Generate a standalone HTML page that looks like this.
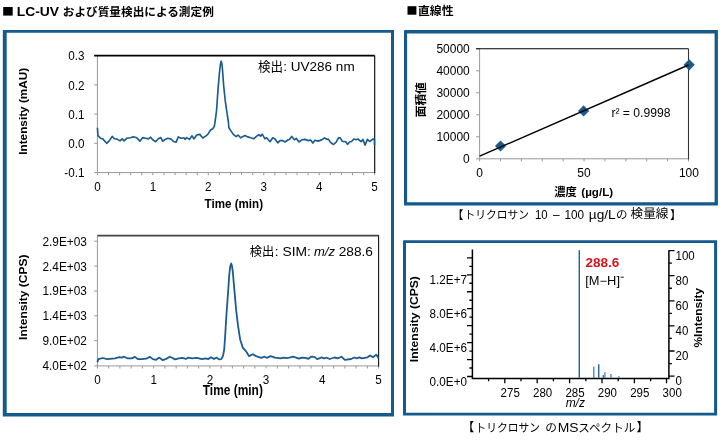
<!DOCTYPE html>
<html><head><meta charset="utf-8"><title>chart</title>
<style>html,body{margin:0;padding:0;background:#fff;overflow:hidden}body{width:720px;height:445px;font-family:"Liberation Sans",sans-serif}</style>
</head><body>
<svg width="720" height="445" viewBox="0 0 720 445" style="display:block;font-family:'Liberation Sans',sans-serif;filter:blur(0.35px)">
<rect width="720" height="445" fill="#fff"/>
<path fill-rule="evenodd" fill="#155a8c" d="M3.8 30.1H394.0V416.6H2.8V31.1Q2.8 30.1 3.8 30.1ZM6.699999999999999 32.800000000000004V413.1H391.0V32.800000000000004Z"/>
<path fill-rule="evenodd" fill="#155a8c" d="M405.0 30.1H717.9V205.5H404.0V31.1Q404.0 30.1 405.0 30.1ZM407.1 33.5V202.3H714.6V33.5Z"/>
<path fill-rule="evenodd" fill="#155a8c" d="M404.0 240.2H717.1V415.6H403.0V241.2Q403.0 240.2 404.0 240.2ZM406.0 243.1V412.70000000000005H714.1V243.1Z"/>
<rect x="3.2" y="7.0" width="9.5" height="8.6" fill="#000"/>
<text x="16.70" y="15.7" font-size="13.6" textLength="42.38" lengthAdjust="spacingAndGlyphs" font-weight="bold">LC-UV</text>
<text x="62.8" y="16.4" font-size="11.7" font-weight="bold" textLength="151" lengthAdjust="spacingAndGlyphs" style="font-family:'Liberation Sans','Noto Sans CJK JP',sans-serif">および質量検出による測定例</text>
<rect x="407.5" y="6.2" width="8.9" height="8.5" fill="#000"/>
<text x="418" y="14.7" font-size="11.7" font-weight="bold" textLength="35.5" lengthAdjust="spacingAndGlyphs" style="font-family:'Liberation Sans','Noto Sans CJK JP',sans-serif">直線性</text>
<path d="M97.4 55.6V172.6H374.7" fill="none" stroke="#989898" stroke-width="1"/>
<path d="M94.2 55.60H97.4M94.2 84.85H97.4M94.2 114.10H97.4M94.2 143.35H97.4M94.2 172.60H97.4M97.40 172.6v2.6M108.49 172.6v2.6M119.58 172.6v2.6M130.68 172.6v2.6M141.77 172.6v2.6M152.86 172.6v2.6M163.95 172.6v2.6M175.04 172.6v2.6M186.14 172.6v2.6M197.23 172.6v2.6M208.32 172.6v2.6M219.41 172.6v2.6M230.50 172.6v2.6M241.60 172.6v2.6M252.69 172.6v2.6M263.78 172.6v2.6M274.87 172.6v2.6M285.96 172.6v2.6M297.06 172.6v2.6M308.15 172.6v2.6M319.24 172.6v2.6M330.33 172.6v2.6M341.42 172.6v2.6M352.52 172.6v2.6M363.61 172.6v2.6M374.70 172.6v2.6" fill="none" stroke="#989898" stroke-width="1"/>
<path d="M94.2 55.6H374.7" stroke="#000" stroke-width="1.6"/>
<path d="M374.7 55.6V173.1" stroke="#000" stroke-width="1.1"/>
<text transform="translate(84.40 60.35) scale(0.8696 1)" font-size="13.45" text-anchor="end">0.3</text>
<text transform="translate(84.40 89.60) scale(0.8696 1)" font-size="13.45" text-anchor="end">0.2</text>
<text transform="translate(84.40 118.85) scale(0.8696 1)" font-size="13.45" text-anchor="end">0.1</text>
<text transform="translate(84.40 148.10) scale(0.8696 1)" font-size="13.45" text-anchor="end">0.0</text>
<text transform="translate(84.40 177.35) scale(0.8696 1)" font-size="13.45" text-anchor="end">-0.1</text>
<text transform="translate(97.50 191.10) scale(0.8696 1)" font-size="13.45" text-anchor="middle">0</text>
<text transform="translate(152.92 191.10) scale(0.8696 1)" font-size="13.45" text-anchor="middle">1</text>
<text transform="translate(208.34 191.10) scale(0.8696 1)" font-size="13.45" text-anchor="middle">2</text>
<text transform="translate(263.76 191.10) scale(0.8696 1)" font-size="13.45" text-anchor="middle">3</text>
<text transform="translate(319.18 191.10) scale(0.8696 1)" font-size="13.45" text-anchor="middle">4</text>
<text transform="translate(374.60 191.10) scale(0.8696 1)" font-size="13.45" text-anchor="middle">5</text>
<text transform="translate(233.80 207.90) scale(0.8696 1)" font-size="13.34" font-weight="bold" text-anchor="middle">Time (min)</text>
<text transform="translate(27.30 111.30) rotate(-90) scale(1.0000 1)" font-size="11.77" font-weight="bold" text-anchor="middle">Intensity (mAU)</text>
<polyline points="97.4,127.8 98.0,135.6 100.6,138.3 102.8,138.9 106.7,143.3 109.4,140.6 112.2,136.4 114.4,138.7 117.2,139.1 120.0,140.9 122.2,138.9 124.1,140.9 126.7,138.3 130.6,137.8 133.3,136.7 136.7,137.8 140.0,141.1 142.8,137.6 145.6,138.3 148.3,138.9 150.6,137.2 152.8,139.8 155.6,141.7 158.3,138.7 160.8,137.6 162.8,141.3 165.0,139.4 167.8,138.3 171.1,139.1 173.6,141.5 176.1,142.2 178.3,136.9 181.1,138.3 183.9,137.8 185.0,139.4 186.7,137.6 189.4,139.4 192.0,135.8 193.9,138.9 196.7,135.0 199.8,134.4 202.8,138.0 205.6,136.1 207.8,134.4 210.6,130.0 212.8,128.7 214.4,126.1 215.3,120.1 216.5,111.2 218.0,89.6 219.4,73.4 220.4,64.5 221.2,61.2 222.0,64.5 222.5,69.8 223.7,86.0 225.2,100.4 227.0,113.0 228.4,122.0 228.9,127.8 231.1,131.1 233.3,134.4 236.1,136.7 238.0,135.0 240.6,137.8 245.0,135.6 247.8,136.9 250.6,137.8 253.9,138.7 256.7,136.1 258.9,134.7 260.6,136.1 262.2,134.2 265.0,138.9 266.7,137.8 270.0,141.7 272.8,137.8 275.0,138.9 277.8,142.8 280.0,140.6 282.8,140.6 285.0,142.0 287.8,140.0 289.4,139.4 291.7,136.4 294.4,139.8 296.3,138.3 298.9,142.0 301.7,139.8 305.0,139.4 308.3,140.6 310.6,140.0 312.8,143.1 315.0,140.2 317.8,141.1 321.7,139.9 324.5,137.9 326.3,139.1 328.6,139.4 330.4,142.4 333.5,144.5 336.2,142.1 338.5,137.9 340.3,137.9 342.1,141.2 345.7,141.8 347.5,144.4 349.8,141.7 351.6,141.5 353.8,139.0 356.1,139.7 357.9,139.0 361.1,141.7 362.9,139.4 365.1,145.1 367.4,139.4 369.5,141.5 373.2,139.0 374.4,139.0 374.5,145.0" fill="none" stroke="#1c5b8d" stroke-width="1.65" stroke-linejoin="round"/>
<text x="258" y="70.7" font-size="12.6" textLength="25" lengthAdjust="spacingAndGlyphs" style="font-family:'Liberation Sans','Noto Sans CJK JP',sans-serif">検出</text>
<text x="283.28" y="70.7" font-size="13.0" textLength="71.40" lengthAdjust="spacingAndGlyphs">: UV286 nm</text>
<path d="M97.4 235.3V365.9H378.6" fill="none" stroke="#989898" stroke-width="1"/>
<path d="M94.2 241.20H97.4M94.2 266.10H97.4M94.2 291.00H97.4M94.2 315.80H97.4M94.2 340.70H97.4M94.2 365.90H97.4M97.40 365.9v2.6M108.65 365.9v2.6M119.90 365.9v2.6M131.14 365.9v2.6M142.39 365.9v2.6M153.64 365.9v2.6M164.89 365.9v2.6M176.14 365.9v2.6M187.38 365.9v2.6M198.63 365.9v2.6M209.88 365.9v2.6M221.13 365.9v2.6M232.38 365.9v2.6M243.62 365.9v2.6M254.87 365.9v2.6M266.12 365.9v2.6M277.37 365.9v2.6M288.62 365.9v2.6M299.86 365.9v2.6M311.11 365.9v2.6M322.36 365.9v2.6M333.61 365.9v2.6M344.86 365.9v2.6M356.10 365.9v2.6M367.35 365.9v2.6M378.60 365.9v2.6" fill="none" stroke="#989898" stroke-width="1"/>
<path d="M97.4 235.60000000000002H378.6" stroke="#444" stroke-width="1.6"/>
<path d="M378.6 235.3V366.4" stroke="#111" stroke-width="1.1"/>
<text transform="translate(86.90 245.60) scale(0.8696 1)" font-size="13.63" text-anchor="end">2.9E+03</text>
<text transform="translate(86.90 270.50) scale(0.8696 1)" font-size="13.63" text-anchor="end">2.4E+03</text>
<text transform="translate(86.90 295.40) scale(0.8696 1)" font-size="13.63" text-anchor="end">1.9E+03</text>
<text transform="translate(86.90 320.20) scale(0.8696 1)" font-size="13.63" text-anchor="end">1.4E+03</text>
<text transform="translate(86.90 345.10) scale(0.8696 1)" font-size="13.63" text-anchor="end">9.0E+02</text>
<text transform="translate(86.90 370.30) scale(0.8696 1)" font-size="13.63" text-anchor="end">4.0E+02</text>
<text transform="translate(97.50 384.30) scale(0.8696 1)" font-size="13.45" text-anchor="middle">0</text>
<text transform="translate(153.70 384.30) scale(0.8696 1)" font-size="13.45" text-anchor="middle">1</text>
<text transform="translate(209.90 384.30) scale(0.8696 1)" font-size="13.45" text-anchor="middle">2</text>
<text transform="translate(266.10 384.30) scale(0.8696 1)" font-size="13.45" text-anchor="middle">3</text>
<text transform="translate(322.30 384.30) scale(0.8696 1)" font-size="13.45" text-anchor="middle">4</text>
<text transform="translate(378.50 384.30) scale(0.8696 1)" font-size="13.45" text-anchor="middle">5</text>
<text transform="translate(232.80 395.40) scale(0.8696 1)" font-size="13.74" font-weight="bold" text-anchor="middle">Time (min)</text>
<text transform="translate(26.80 297.20) rotate(-90) scale(1.0840 1)" font-size="11.10" font-weight="bold" text-anchor="middle">Intensity (CPS)</text>
<polyline points="97.4,362.2 98.3,359.1 102.8,358.0 107.2,359.1 115.0,358.3 119.4,357.2 121.7,357.6 124.1,356.7 127.2,358.3 131.7,358.3 135.0,356.9 137.8,359.1 141.7,359.1 146.1,358.7 150.0,356.9 152.8,359.1 156.1,359.8 159.4,357.6 162.8,360.2 166.1,358.9 170.0,356.7 172.5,358.0 175.0,359.4 178.9,358.3 182.2,357.8 186.1,358.9 188.3,357.6 192.2,358.3 196.7,357.8 202.2,359.1 205.6,358.3 208.3,359.1 210.9,357.2 213.9,358.9 216.7,357.6 218.9,359.4 221.3,359.1 223.1,355.6 224.2,349.5 225.3,333.8 226.6,312.2 228.0,293.2 229.3,274.3 230.3,266.0 231.2,263.5 232.0,266.0 232.8,271.6 234.2,287.8 236.1,309.5 238.0,325.7 240.1,339.2 242.8,347.8 245.0,350.0 246.7,352.2 248.9,356.1 252.8,354.2 256.1,356.1 261.1,357.8 264.4,356.7 266.7,357.8 270.6,356.1 275.0,357.6 280.6,358.3 283.3,357.6 286.7,358.1 289.4,357.6 292.8,356.7 296.1,357.6 298.9,358.7 301.7,357.6 305.6,357.8 308.3,358.9 311.1,356.7 314.4,356.9 317.2,359.1 321.7,357.4 323.9,358.3 326.8,357.7 329.7,359.0 334.6,357.5 338.0,358.3 341.4,356.7 344.8,359.9 351.1,359.0 354.5,357.5 356.9,358.3 359.4,357.3 361.8,358.3 367.6,357.3 370.0,355.5 373.0,357.3 376.2,354.6 378.4,358.0" fill="none" stroke="#1c5b8d" stroke-width="1.8" stroke-linejoin="round"/>
<text x="249.8" y="256.3" font-size="12.4" textLength="24.5" lengthAdjust="spacingAndGlyphs" style="font-family:'Liberation Sans','Noto Sans CJK JP',sans-serif">検出</text>
<text x="274.76" y="255.9" font-size="13.0" textLength="36.11" lengthAdjust="spacingAndGlyphs">: SIM:</text>
<text x="314.00" y="255.9" font-size="13.0" textLength="21.00" lengthAdjust="spacingAndGlyphs" font-style="italic">m/z</text>
<text x="338.72" y="255.9" font-size="13.0" textLength="34.27" lengthAdjust="spacingAndGlyphs">288.6</text>
<path d="M479.6 48.8V158.8H688.5" fill="none" stroke="#989898" stroke-width="1"/>
<path d="M476.0 48.80H479.6M476.0 70.80H479.6M476.0 92.80H479.6M476.0 114.80H479.6M476.0 136.80H479.6M476.0 158.80H479.6M479.60 158.8v2.6M500.49 158.8v2.6M521.38 158.8v2.6M542.27 158.8v2.6M563.16 158.8v2.6M584.05 158.8v2.6M604.94 158.8v2.6M625.83 158.8v2.6M646.72 158.8v2.6M667.61 158.8v2.6M688.50 158.8v2.6" fill="none" stroke="#989898" stroke-width="1"/>
<path d="M476.0 48.8H688.5" stroke="#000" stroke-width="1.1"/>
<path d="M688.5 48.8V159.3" stroke="#333" stroke-width="1.1"/>
<text transform="translate(469.80 53.30) scale(0.9615 1)" font-size="12.48" text-anchor="end">50000</text>
<text transform="translate(469.80 75.30) scale(0.9615 1)" font-size="12.48" text-anchor="end">40000</text>
<text transform="translate(469.80 97.30) scale(0.9615 1)" font-size="12.48" text-anchor="end">30000</text>
<text transform="translate(469.80 119.30) scale(0.9615 1)" font-size="12.48" text-anchor="end">20000</text>
<text transform="translate(469.80 141.30) scale(0.9615 1)" font-size="12.48" text-anchor="end">10000</text>
<text transform="translate(469.80 163.30) scale(0.9615 1)" font-size="12.48" text-anchor="end">0</text>
<text transform="translate(479.70 177.00) scale(0.9615 1)" font-size="12.48" text-anchor="middle">0</text>
<text transform="translate(583.90 177.00) scale(0.9615 1)" font-size="12.48" text-anchor="middle">50</text>
<text transform="translate(688.90 177.00) scale(0.9615 1)" font-size="12.48" text-anchor="middle">100</text>
<path d="M494.9 146L500.5 140.4L506.1 146L500.5 151.6Z" fill="#1c5b8d"/>
<path d="M578.0 110.9L583.6 105.30000000000001L589.2 110.9L583.6 116.5Z" fill="#1c5b8d"/>
<path d="M683.6 64.8L689.2 59.199999999999996L694.8000000000001 64.8L689.2 70.39999999999999Z" fill="#1c5b8d"/>
<path d="M479.6 156.2L688.5 65.0" stroke="#000" stroke-width="1.4"/>
<text x="611.41" y="116.6" font-size="12.0" textLength="59.07" lengthAdjust="spacingAndGlyphs">r² = 0.9998</text>
<text x="554.3" y="195.6" font-size="11.2" font-weight="bold" textLength="22.5" lengthAdjust="spacingAndGlyphs" style="font-family:'Liberation Sans','Noto Sans CJK JP',sans-serif">濃度</text>
<text x="581.32" y="195.7" font-size="11.8" textLength="31.82" lengthAdjust="spacingAndGlyphs" font-weight="bold">(µg/L)</text>
<g transform="translate(420.6 99.7) rotate(-90)"><text x="0" y="4.6" font-size="11.6" font-weight="bold" text-anchor="middle" textLength="35" lengthAdjust="spacingAndGlyphs" style="font-family:'Liberation Sans','Noto Sans CJK JP',sans-serif">面積値</text></g>
<text x="463.5" y="218.6" font-size="11.5" text-anchor="end" style="font-family:'Liberation Sans','Noto Sans CJK JP',sans-serif">【</text>
<text x="464.5" y="218.6" font-size="11.5" textLength="64.5" lengthAdjust="spacingAndGlyphs" style="font-family:'Liberation Sans','Noto Sans CJK JP',sans-serif">トリクロサン</text>
<text x="535.04" y="218.6" font-size="12.6" textLength="12.68" lengthAdjust="spacingAndGlyphs">10</text>
<text x="552.90" y="218.6" font-size="12.6" textLength="6.61" lengthAdjust="spacingAndGlyphs">–</text>
<text x="564.52" y="218.6" font-size="12.6" textLength="19.64" lengthAdjust="spacingAndGlyphs">100</text>
<text x="588.84" y="218.6" font-size="12.6" textLength="26.89" lengthAdjust="spacingAndGlyphs">µg/L</text>
<text x="616" y="218.6" font-size="11.5" style="font-family:'Liberation Sans','Noto Sans CJK JP',sans-serif">の</text>
<text x="630.5" y="218.4" font-size="12" textLength="38" lengthAdjust="spacingAndGlyphs" style="font-family:'Liberation Sans','Noto Sans CJK JP',sans-serif">検量線</text>
<text x="670" y="218.6" font-size="11.5" style="font-family:'Liberation Sans','Noto Sans CJK JP',sans-serif">】</text>
<path d="M472.4 249.5V378.5H668.9V250.3" fill="none" stroke="#000" stroke-width="1.5" stroke-linejoin="miter"/>
<path d="M467.00 376.50H472.4M469.40 368.02H472.4M467.00 359.55H472.4M469.40 351.07H472.4M467.00 342.60H472.4M469.40 334.12H472.4M467.00 325.65H472.4M469.40 317.18H472.4M467.00 308.70H472.4M469.40 300.23H472.4M467.00 291.75H472.4M469.40 283.27H472.4M467.00 274.80H472.4M469.40 266.32H472.4M467.00 257.85H472.4M668.9 250.60h5.6M668.9 263.15h3.0M668.9 275.70h5.6M668.9 288.25h3.0M668.9 300.80h5.6M668.9 313.35h3.0M668.9 325.90h5.6M668.9 338.45h3.0M668.9 351.00h5.6M668.9 363.55h3.0M668.9 376.10h5.6M488.60 378.5v2.8M504.80 378.5v4.8M521.00 378.5v2.8M537.20 378.5v4.8M553.40 378.5v2.8M569.60 378.5v4.8M585.80 378.5v2.8M602.00 378.5v4.8M618.20 378.5v2.8M634.40 378.5v4.8M650.60 378.5v2.8M666.50 378.5v4.8" fill="none" stroke="#000" stroke-width="1.3"/>
<text transform="translate(467.00 385.50) scale(0.9346 1)" font-size="12.52" text-anchor="end">0.0E+0</text>
<text transform="translate(467.00 351.60) scale(0.9346 1)" font-size="12.52" text-anchor="end">4.0E+6</text>
<text transform="translate(467.00 317.70) scale(0.9346 1)" font-size="12.52" text-anchor="end">8.0E+6</text>
<text transform="translate(467.00 283.80) scale(0.9346 1)" font-size="12.52" text-anchor="end">1.2E+7</text>
<text transform="translate(675.60 259.90) scale(0.9259 1)" font-size="12.42">100</text>
<text transform="translate(675.60 285.00) scale(0.9259 1)" font-size="12.42">80</text>
<text transform="translate(675.60 310.10) scale(0.9259 1)" font-size="12.42">60</text>
<text transform="translate(675.60 335.20) scale(0.9259 1)" font-size="12.42">40</text>
<text transform="translate(675.60 360.30) scale(0.9259 1)" font-size="12.42">20</text>
<text transform="translate(675.60 385.40) scale(0.9259 1)" font-size="12.42">0</text>
<text transform="translate(510.20 396.50) scale(0.9346 1)" font-size="12.31" text-anchor="middle">275</text>
<text transform="translate(542.60 396.50) scale(0.9346 1)" font-size="12.31" text-anchor="middle">280</text>
<text transform="translate(575.00 396.50) scale(0.9346 1)" font-size="12.31" text-anchor="middle">285</text>
<text transform="translate(607.40 396.50) scale(0.9346 1)" font-size="12.31" text-anchor="middle">290</text>
<text transform="translate(639.80 396.50) scale(0.9346 1)" font-size="12.31" text-anchor="middle">295</text>
<text transform="translate(672.20 396.50) scale(0.9346 1)" font-size="12.31" text-anchor="middle">300</text>
<text x="575.3" y="407.2" font-size="12" font-style="italic" text-anchor="middle">m/z</text>
<text transform="translate(418.00 319.20) rotate(-90) scale(1.1429 1)" font-size="10.59" font-weight="bold" text-anchor="middle">Intensity (CPS)</text>
<text transform="translate(702.00 317.70) rotate(-90) scale(1.1377 1)" font-size="10.50" font-weight="bold" text-anchor="middle">%Intensity</text>
<path d="M579.3 377.9V250.2" stroke="#1f639a" stroke-width="1.45"/>
<path d="M593.8 377.9V366.8" stroke="#5d8fbb" stroke-width="1.5"/>
<path d="M598.7 377.9V364.3" stroke="#2a6aa0" stroke-width="1.5"/>
<path d="M603.3 377.9V374.9" stroke="#2a6aa0" stroke-width="1.3"/>
<path d="M604.9 377.9V371.9" stroke="#5d8fbb" stroke-width="1.4"/>
<path d="M611.0 377.9V373.9" stroke="#5d8fbb" stroke-width="1.5"/>
<path d="M618.9 377.9V375.9" stroke="#6f9cc4" stroke-width="1.4"/>
<text x="585.53" y="267.4" font-size="12.6" textLength="33.78" lengthAdjust="spacingAndGlyphs" font-weight="bold" fill="#d8121c">288.6</text>
<text x="585.30" y="284.5" font-size="12.0" textLength="34.66" lengthAdjust="spacingAndGlyphs">[M−H]</text>
<path d="M620.6 277.2h3.2" stroke="#000" stroke-width="0.9"/>
<text x="474.2" y="431.7" font-size="12" text-anchor="end" style="font-family:'Liberation Sans','Noto Sans CJK JP',sans-serif">【</text>
<text x="475.6" y="431.7" font-size="11.7" textLength="64.5" lengthAdjust="spacingAndGlyphs" style="font-family:'Liberation Sans','Noto Sans CJK JP',sans-serif">トリクロサン</text>
<text x="545.2" y="431.7" font-size="11.7" style="font-family:'Liberation Sans','Noto Sans CJK JP',sans-serif">の</text>
<text x="557.79" y="431.7" font-size="12.5" textLength="20.84" lengthAdjust="spacingAndGlyphs">MS</text>
<text x="578.3" y="431.7" font-size="11.7" textLength="57" lengthAdjust="spacingAndGlyphs" style="font-family:'Liberation Sans','Noto Sans CJK JP',sans-serif">スペクトル</text>
<text x="636.6" y="431.7" font-size="12" style="font-family:'Liberation Sans','Noto Sans CJK JP',sans-serif">】</text>
</svg>
</body></html>
